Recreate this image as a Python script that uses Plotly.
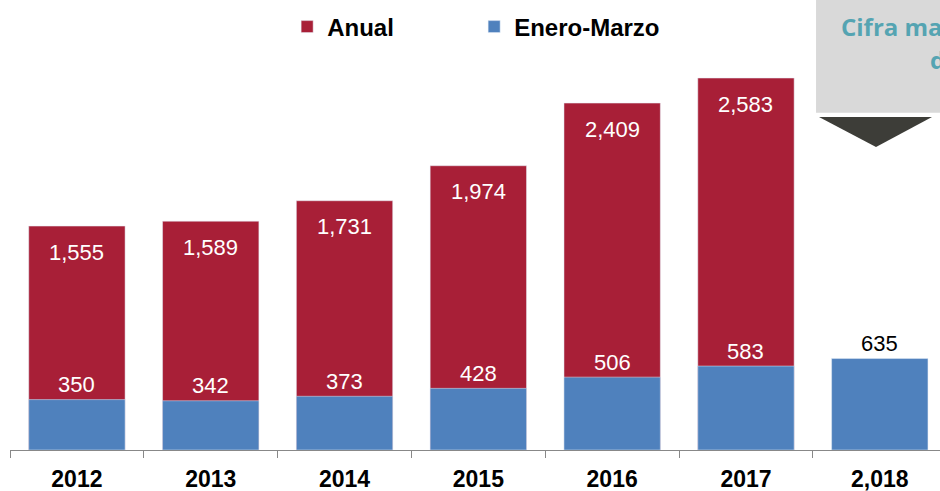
import plotly.graph_objects as go

# Data
years = ["2012", "2013", "2014", "2015", "2016", "2017", "2,018"]
anual = [1555, 1589, 1731, 1974, 2409, 2583, None]
enero_marzo = [350, 342, 373, 428, 506, 583, 635]

RED = "#A81F37"
BLUE = "#4F81BD"
BAR_W = 0.72
LABEL_FONT = "Liberation Sans, Arial"

fig = go.Figure()
fig.add_trace(go.Bar(x=years, y=anual, name="Anual", marker_color=RED,
                     width=BAR_W, hoverinfo="skip"))
fig.add_trace(go.Bar(x=years, y=enero_marzo, name="Enero-Marzo", marker_color=BLUE,
                     width=BAR_W, hoverinfo="skip"))

annotations = []
# Annual totals, written inside the top of each red bar
for i, v in enumerate(anual):
    if v is None:
        continue
    annotations.append(dict(x=i, y=v, xref="x", yref="y", text=f"{v:,}",
                            showarrow=False, yanchor="middle", yshift=-26,
                            font=dict(family=LABEL_FONT, size=22, color="white")))
# January-March values, just above each blue bar
for i, (a, v) in enumerate(zip(anual, enero_marzo)):
    color = "white" if a is not None else "black"
    annotations.append(dict(x=i, y=v, xref="x", yref="y", text=f"{v:,}",
                            showarrow=False, yanchor="middle", yshift=15,
                            font=dict(family=LABEL_FONT, size=22, color=color)))

# Callout box in the upper right corner
annotations.append(dict(x=0.8914, y=0.942, xref="paper", yref="paper", xanchor="left",
                        yanchor="middle", showarrow=False, text="<b>Cifra mayor registrada en</b>",
                        font=dict(family="Open Sans", size=24, color="#55A4B2")))
annotations.append(dict(x=0.9871, y=0.868, xref="paper", yref="paper", xanchor="left",
                        yanchor="middle", showarrow=False, text="<b>desde 2012</b>",
                        font=dict(family="Open Sans", size=24, color="#55A4B2")))

shapes = [
    dict(type="rect", xref="paper", yref="paper", x0=0.8667, x1=1.05, y0=0.7496, y1=1.02,
         fillcolor="#D9D9D9", line=dict(width=0), layer="above"),
    dict(type="path", xref="paper", yref="paper",
         path="M 0.8699 0.74 L 0.9914 0.74 L 0.9312 0.6733 Z",
         fillcolor="#3D3D38", line=dict(width=0), layer="above"),
]

fig.update_layout(
    width=940, height=491,
    margin=dict(l=10, r=0, t=0, b=41),
    paper_bgcolor="white", plot_bgcolor="white",
    barmode="overlay",
    showlegend=True,
    legend=dict(orientation="h", x=0.298, y=0.94, xanchor="left", yanchor="middle",
                font=dict(family=LABEL_FONT, size=24, color="black", weight="bold"),
                entrywidth=142, entrywidthmode="pixels", bgcolor="rgba(0,0,0,0)",
                itemclick=False, itemdoubleclick=False),
    xaxis=dict(type="category", range=[-0.5, 6.45], showline=True, linecolor="#888888",
               linewidth=1, ticks="outside", tickson="boundaries", ticklen=7,
               tickcolor="#888888", showgrid=False, automargin=False,
               ticklabelstandoff=8,
               tickfont=dict(family=LABEL_FONT, size=23, color="black", weight="bold")),
    yaxis=dict(range=[0, 3125], visible=False, showgrid=False, automargin=False),
    annotations=annotations,
    shapes=shapes,
    font=dict(family=LABEL_FONT),
)

fig.write_html("out.html")
